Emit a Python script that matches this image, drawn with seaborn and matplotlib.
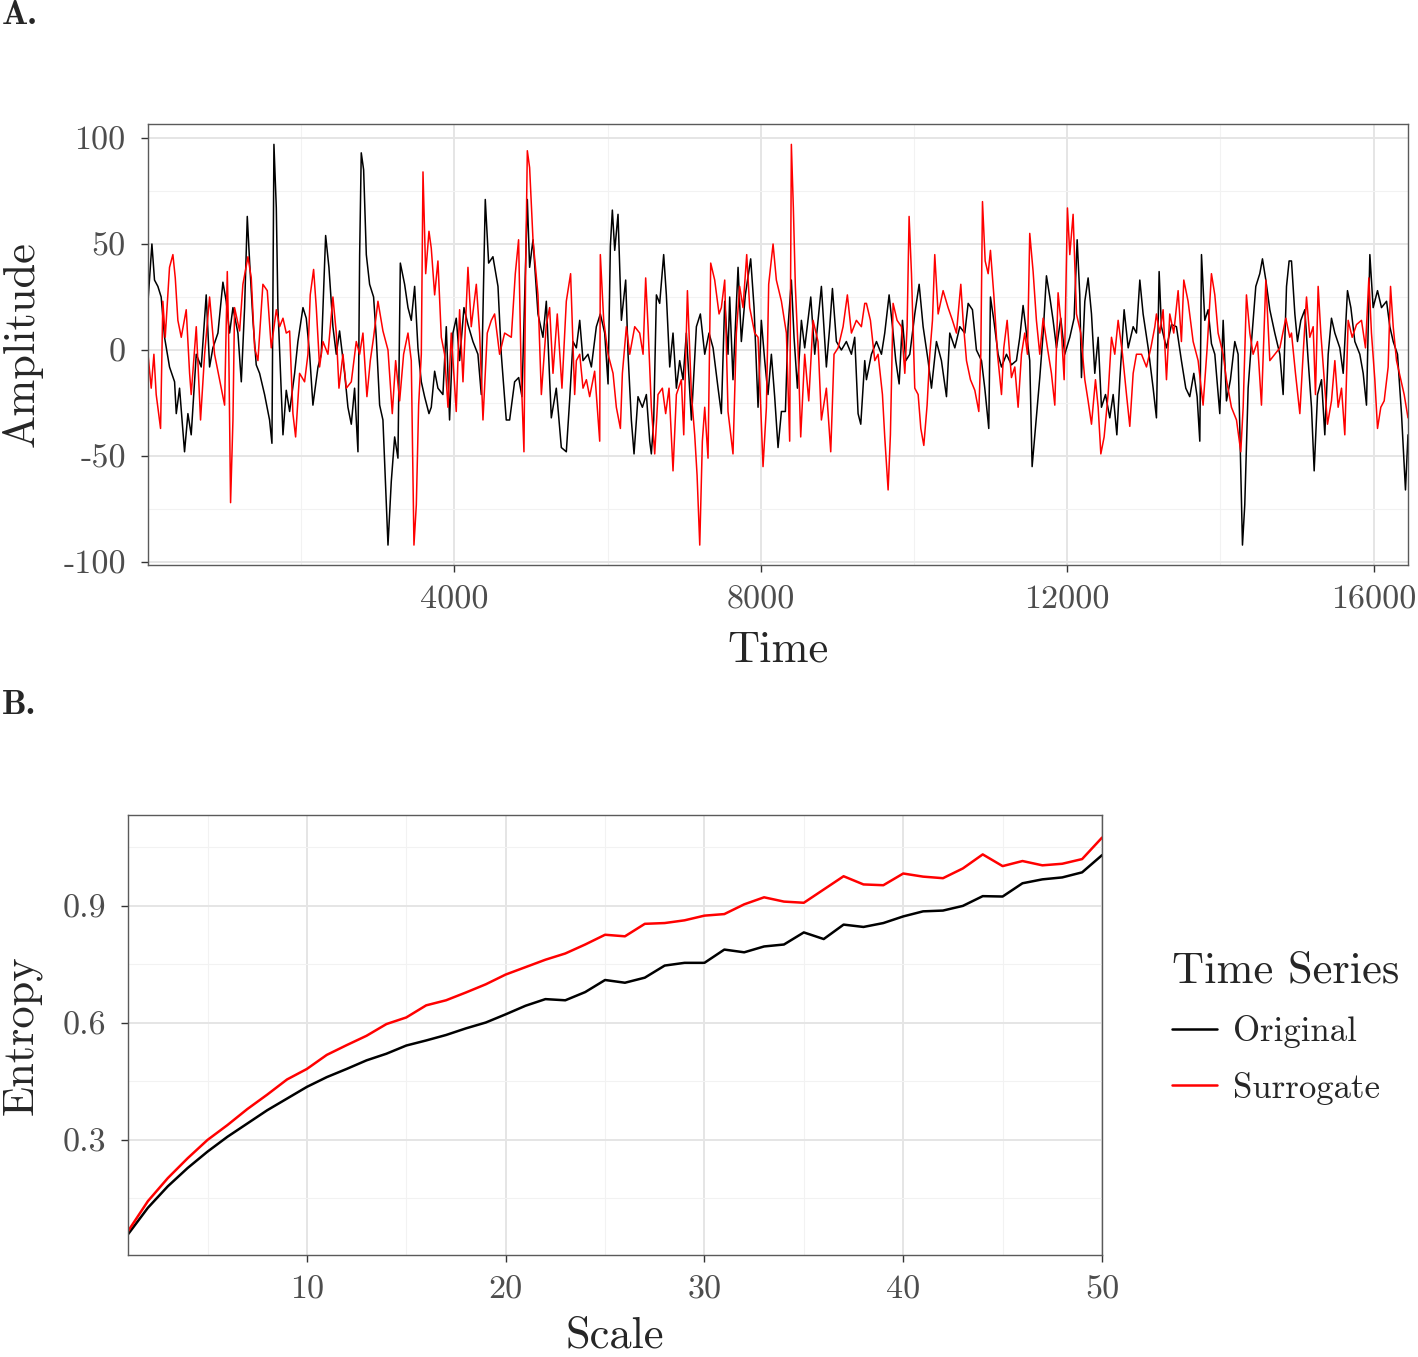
import matplotlib
matplotlib.use("Agg")
import matplotlib.pyplot as plt
from matplotlib.lines import Line2D
import seaborn as sns
import pandas as pd

# ---- panel A: time series (time, amplitude) ----
original_pts = [
    (1, 23), (52, 50), (86, 33), (130, 30), (173, 25), (217, 6), (282, -8), (348, -15), (370, -30), (413, -18),
    (478, -48), (522, -30), (565, -40), (631, -2), (696, -8), (761, 26), (805, -8), (848, 1), (914, 8), (979, 32),
    (1022, 23), (1066, 8), (1110, 20), (1175, 8), (1219, -15), (1262, 20), (1297, 63), (1327, 42), (1371, 14),
    (1414, -7), (1458, -11), (1523, -21), (1588, -33), (1619, -44), (1645, 97), (1676, 67), (1697, 20), (1763, -40),
    (1806, -19), (1850, -29), (1915, -11), (1958, 4), (2024, 20), (2067, 15), (2111, -2), (2154, -26), (2220, -8),
    (2263, -2), (2320, 54), (2363, 39), (2415, 11), (2459, -2), (2502, 9), (2568, -11), (2611, -27), (2655, -35),
    (2698, -18), (2742, -48), (2764, 45), (2785, 93), (2816, 85), (2851, 45), (2894, 31), (2946, 25), (2981, 6),
    (3025, -26), (3068, -33), (3134, -92), (3177, -62), (3221, -41), (3264, -51), (3295, 41), (3351, 31), (3395, 20),
    (3438, 14), (3482, 30), (3525, 1), (3569, -15), (3612, -22), (3669, -30),
    (3699, -27), (3743, -10), (3786, -18), (3851, -21), (3895, 11), (3938, -33), (3982, 8), (4025, 15), (4069, -5),
    (4126, 20), (4178, 12), (4243, 4), (4308, -2), (4352, -21), (4404, 71), (4448, 41), (4504, 44), (4570, 30),
    (4613, -2), (4678, -33), (4722, -33), (4787, -15), (4840, -13), (4883, -22), (4953, 71), (4983, 39), (5027, 52),
    (5092, 17), (5157, 6), (5201, 23), (5266, -32), (5331, -18), (5397, -46), (5462, -48), (5505, -24), (5549, 4),
    (5593, 1), (5637, 14), (5680, -5), (5745, -2), (5789, -8), (5854, 11), (5906, 17), (5963, 8), (6007, -16),
    (6037, 49), (6063, 66), (6094, 47), (6137, 64), (6181, 14), (6237, 33), (6268, -2), (6311, -33), (6346, -49),
    (6398, -22), (6455, -27), (6507, -21), (6551, -43), (6572, -49), (6603, -33), (6638, 26), (6681, 22), (6733, 45),
    (6768, 26), (6812, -8), (6855, 8), (6899, -18), (6942, -5), (6986, -14), (7029, 8), (7095, -33), (7160, 11),
    (7212, 17), (7269, -2), (7325, 8), (7378, 1), (7443, -18),
    (7486, -30), (7530, 23), (7573, -2), (7595, 25), (7638, -14), (7704, 39), (7747, 4), (7799, 26), (7869, 43),
    (7913, 20), (7965, -27), (8008, 14), (8052, -5), (8095, -21), (8139, -2), (8182, -22), (8226, -46), (8270, -29),
    (8322, -29), (8357, 11), (8400, 33), (8435, 6), (8479, -18), (8531, 14), (8574, 1), (8653, 25), (8705, -2),
    (8748, 14), (8792, 30), (8857, -8), (8901, 11), (8936, 29), (8988, 4), (9053, 0), (9118, 4), (9184, -2),
    (9227, 6), (9271, -30), (9306, -35), (9358, -5),
    (9380, -14), (9445, -2), (9511, 4), (9576, -2), (9619, 8), (9676, 26), (9720, 11), (9763, -5), (9807, -16),
    (9850, 14), (9894, -5), (9946, -2), (10011, 17), (10068, 31), (10120, 11), (10185, -5), (10229, -18), (10294, 4),
    (10359, -5), (10425, -22), (10468, 8), (10534, 1), (10599, 11), (10664, 8), (10708, 22), (10764, 19), (10816, 0),
    (10882, -5), (10925, -18), (10977, -37), (10999, 25), (11043, 14), (11099, -2), (11143, -8), (11208, -2),
    (11273, -7), (11338, -5), (11382, 6), (11425, 21), (11469, 8), (11512, -5), (11543, -55), (11586, -37),
    (11643, -13), (11687, 8), (11730, 35), (11774, 25), (11817, 14), (11861, 1), (11917, 15), (11969, -2),
    (12035, 6), (12091, 15), (12131, 52), (12165, 26), (12187, -13), (12231, 23), (12274, 34), (12318, 17),
    (12361, -11), (12405, 6), (12448, -27), (12501, -21), (12557, -32), (12601, -21), (12649, -40), (12688, -14),
    (12744, 19), (12797, 1), (12862, 11), (12905, 8), (12949, 33), (12992, 17), (13058, 1), (13123, -18),
    (13166, -32), (13201, 37), (13231, 11), (13297, 1), (13362, 12), (13427, 11), (13492, -5), (13549, -18),
    (13601, -22), (13654, -11), (13697, -22), (13732, -43), (13754, 45), (13797, 14), (13841, 19), (13884, 3),
    (13928, -2), (13993, -30), (14037, 14), (14080, -24), (14132, -14), (14189, 4), (14232, -2), (14289, -92),
    (14319, -73), (14363, -18), (14407, 4), (14463, 30), (14515, 36), (14550, 43), (14594, 33), (14646, 19),
    (14711, 8), (14777, -2), (14820, -21), (14864, 30), (14898, 42),
    (14929, 42), (14973, 17), (15007, 4), (15051, 14), (15103, 19), (15147, -5), (15190, -27), (15225, -57),
    (15269, -21), (15321, -14), (15364, -40), (15408, -2), (15451, 15), (15495, 8), (15560, 1), (15604, -11),
    (15660, 28), (15704, 20), (15756, 4), (15821, -2), (15865, -11), (15908, -26), (15952, 45), (15995, 20),
    (16052, 28), (16104, 20), (16170, 23), (16213, 11), (16257, 4), (16313, -2), (16365, -30), (16417, -66),
    (16450, -40),
]

surrogate_pts = [
    (1, -2), (43, -18), (78, -2), (108, -21), (165, -37), (195, 23), (226, 6), (282, 39), (326, 45), (357, 34),
    (391, 14), (435, 6), (500, 19), (544, -11), (565, -21), (631, 11), (687, -33), (740, -2), (805, 25), (870, -2),
    (957, -18), (1001, -26), (1036, 37), (1053, 8), (1079, -72), (1110, -33), (1131, 20), (1197, 9), (1240, 31),
    (1306, 44), (1349, 34), (1393, 1), (1436, -5), (1501, 31), (1558, 28), (1610, 1), (1676, 19), (1719, 11),
    (1763, 15),
    (1806, 8), (1850, 9), (1893, -30), (1928, -41), (1980, -11), (2045, -15), (2089, -2), (2119, 26), (2163, 38),
    (2198, 20), (2241, -8), (2285, 4), (2350, -2), (2415, 25), (2459, 8), (2494, -18), (2546, -2), (2590, -18),
    (2655, -15), (2720, 4), (2764, -2), (2807, 8), (2859, -22), (2903, -5), (2946, 6), (3003, 23), (3068, 9),
    (3134, 0), (3190, -30), (3234, -5), (3286, -24), (3338, -2), (3395, 8), (3438, -5), (3473, -92), (3504, -73),
    (3534, -26), (3569, -2), (3591, 84), (3626, 36), (3669, 56),
    (3699, 48), (3743, 26), (3786, 42), (3830, 6), (3873, -2), (3917, -27), (3960, 8), (4025, -29), (4069, 19),
    (4113, -15), (4178, 39), (4221, 11), (4287, 31), (4330, 8), (4374, -33), (4430, 8), (4483, 14), (4526, 17),
    (4591, -2), (4657, 8), (4744, 6), (4796, 36), (4839, 52), (4874, -13), (4909, -48), (4931, 37), (4953, 94),
    (4983, 86), (5027, 52), (5092, 26), (5136, -21), (5201, 12), (5244, 20), (5288, -11), (5344, 17), (5405, -18),
    (5462, 23), (5518, 36), (5571, -21),
    (5593, -5), (5637, -2), (5680, -18), (5724, -14), (5767, -22), (5832, -10), (5898, -43), (5906, 45),
    (5950, 14), (6007, -2), (6072, -11), (6115, -27), (6168, -37), (6194, -11), (6246, 11), (6290, -2), (6355, 11),
    (6420, 8), (6464, -2), (6498, 34), (6529, 11), (6572, -27), (6616, -49), (6659, -21), (6716, -18), (6759, -30),
    (6803, -18), (6855, -57), (6899, -21), (6964, -14), (6995, -40), (7043, 28), (7095, -21), (7138, -40),
    (7169, -59), (7204, -92), (7238, -43), (7269, -27), (7312, -51), (7347, 41), (7399, 33), (7456, 17),
    (7486, 20), (7530, 33), (7573, -29), (7638, -49), (7682, 8), (7725, 30), (7769, 20), (7817, 45), (7856, 20),
    (7921, 8), (7965, 6), (8030, -55), (8074, -27), (8104, 31), (8161, 50), (8204, 33), (8270, 23), (8335, 8),
    (8378, -43), (8400, 97), (8426, 67), (8452, 30), (8487, 1), (8522, -41), (8574, -2), (8627, -24), (8683, 14),
    (8748, 4), (8792, -33), (8857, -18), (8914, -48), (8957, -2), (9010, 1), (9075, 11), (9131, 26), (9184, 8),
    (9249, 14), (9314, 11), (9358, 22),
    (9380, 22), (9432, 14), (9489, -5), (9532, -2), (9589, -21), (9619, -41), (9663, -66), (9693, -40), (9728, 22),
    (9780, 14), (9837, 11), (9881, -11), (9911, 11), (9937, 63), (9968, 36), (10011, -18), (10055, -21),
    (10090, -37), (10129, -45), (10172, -26), (10207, -2), (10242, 14), (10272, 45), (10316, 17), (10381, 28),
    (10446, 20), (10503, 14), (10555, 8), (10612, 31), (10642, 14), (10686, -5), (10738, -14), (10795, -19),
    (10847, -29), (10873, -2), (10895, 70), (10930, 42), (10969, 36), (10999, 47), (11043, 26), (11091, -2),
    (11143, -21), (11173, 1), (11217, 14), (11260, -7),
    (11273, -13), (11317, -8), (11360, -27), (11404, -2), (11447, 8), (11482, -2), (11512, 55), (11556, 37),
    (11599, 14), (11643, -2), (11687, 15), (11743, 1), (11795, -11), (11839, -26), (11882, 27), (11917, 14),
    (11961, -14), (12004, 67), (12035, 45), (12078, 64), (12122, 17), (12178, 8), (12231, -14), (12274, -24),
    (12318, -35), (12370, -14), (12405, -27), (12440, -49), (12483, -41), (12535, -21), (12579, 6), (12622, -2),
    (12666, 14), (12723, -2), (12775, -21), (12818, -36), (12862, -11), (12905, -2), (12971, -2), (13036, -8),
    (13093, 1), (13145, 11),
    (13166, 17), (13210, 8), (13253, 19), (13297, -14), (13340, 17), (13392, 8), (13449, 28), (13492, 4),
    (13523, 33), (13579, 23), (13645, 4), (13710, -5), (13775, -26), (13828, 1), (13884, 36), (13928, 26),
    (13971, 8), (14037, -2), (14080, -14), (14145, -27), (14211, -33), (14267, -48), (14298, -27), (14341, 26),
    (14385, 8), (14428, -2), (14485, 4), (14537, -26), (14594, 33), (14646, -5), (14711, -2), (14777, 1),
    (14855, 15), (14907, 6),
    (14929, 8), (14981, -11), (15038, -30), (15081, -2), (15125, 25), (15168, 6), (15212, 11), (15242, -21),
    (15277, 30), (15312, 8), (15356, -14), (15399, -35), (15451, -24), (15495, -5), (15538, -27), (15582, -18),
    (15625, -40), (15669, 14), (15721, 6), (15778, 12), (15843, 14), (15895, 1), (15939, 34), (15973, 8),
    (16017, -14), (16052, -37), (16095, -27), (16139, -24), (16191, -8), (16222, 30), (16257, 11), (16300, -5),
    (16357, -14), (16400, -21), (16450, -32),
]

# ---- panel B: multiscale entropy ----
scales = list(range(1, 51))
entropy_original = [
    0.058, 0.126, 0.181, 0.228, 0.270, 0.308, 0.342, 0.376, 0.406, 0.436,
    0.461, 0.482, 0.504, 0.521, 0.542, 0.555, 0.569, 0.586, 0.601, 0.622,
    0.644, 0.661, 0.658, 0.679, 0.710, 0.703, 0.716, 0.747, 0.754, 0.754,
    0.788, 0.781, 0.796, 0.801, 0.832, 0.815, 0.852, 0.846, 0.856, 0.873,
    0.886, 0.888, 0.900, 0.925, 0.924, 0.958, 0.968, 0.973, 0.986, 1.030,
]
entropy_surrogate = [
    0.066, 0.143, 0.202, 0.253, 0.300, 0.338, 0.379, 0.416, 0.455, 0.482,
    0.518, 0.543, 0.567, 0.597, 0.614, 0.645, 0.658, 0.678, 0.699, 0.724,
    0.743, 0.762, 0.778, 0.801, 0.826, 0.822, 0.854, 0.856, 0.863, 0.875,
    0.879, 0.904, 0.922, 0.911, 0.908, 0.942, 0.976, 0.955, 0.953, 0.983,
    0.975, 0.971, 0.996, 1.032, 1.002, 1.015, 1.004, 1.008, 1.020, 1.075,
]

series_names = ["Original", "Surrogate"]
palette = {"Original": "black", "Surrogate": "red"}

sns.set_style("white")
plt.rcParams["font.family"] = ["cmr10", "DejaVu Serif"]
plt.rcParams["axes.unicode_minus"] = False
plt.rcParams["axes.formatter.use_mathtext"] = True

df_ts = pd.concat([
    pd.DataFrame(original_pts, columns=["Time", "Amplitude"]).assign(Series="Original"),
    pd.DataFrame(surrogate_pts, columns=["Time", "Amplitude"]).assign(Series="Surrogate"),
], ignore_index=True)
df_mse = pd.DataFrame({
    "Scale": scales + scales,
    "Entropy": entropy_original + entropy_surrogate,
    "Series": ["Original"] * len(scales) + ["Surrogate"] * len(scales),
})

W, H = 1418, 1357
fig = plt.figure(figsize=(W / 100, H / 100), dpi=100)
ax_a = fig.add_axes([148 / W, 1 - 565 / H, 1260 / W, 441 / H])
ax_b = fig.add_axes([128 / W, 1 - 1255 / H, 974 / W, 440 / H])

sns.lineplot(data=df_ts, x="Time", y="Amplitude", hue="Series", hue_order=series_names,
             palette=palette, estimator=None, lw=1.1, ax=ax_a, legend=False)
sns.lineplot(data=df_mse, x="Scale", y="Entropy", hue="Series", hue_order=series_names,
             palette=palette, estimator=None, lw=1.8, ax=ax_b, legend=False)


def style_axes(ax, xmaj, xlab, xmin, ymaj, ylab, ymin):
    ax.set_xticks(xmaj)
    ax.set_xticklabels(xlab)
    ax.set_xticks(xmin, minor=True)
    ax.set_yticks(ymaj)
    ax.set_yticklabels(ylab)
    ax.set_yticks(ymin, minor=True)
    ax.grid(which="major", color="#E5E5E5", lw=1.4)
    ax.grid(which="minor", color="#F2F2F2", lw=0.8)
    ax.set_axisbelow(True)
    for sp in ax.spines.values():
        sp.set_visible(True)
        sp.set_color("#5a5a5a")
        sp.set_linewidth(1.0)
    ax.tick_params(which="major", direction="out", length=5, width=1.0, color="#333333",
                   labelsize=24.5, labelcolor="#4D4D4D", bottom=True, left=True)
    ax.tick_params(axis="x", which="major", pad=10)
    ax.tick_params(axis="y", which="major", pad=11)
    ax.tick_params(which="minor", length=0)


style_axes(ax_a, [4000, 8000, 12000, 16000], ["4000", "8000", "12000", "16000"],
           [2000, 6000, 10000, 14000],
           [-100, -50, 0, 50, 100], ["-100", "-50", "0", "50", "100"], [-75, -25, 25, 75])
ax_a.set_xlim(1, 16450)
ax_a.set_ylim(-101.4, 106.6)
ax_a.set_xlabel("Time", fontsize=32, labelpad=11)
ax_a.set_ylabel("Amplitude", fontsize=32, labelpad=15)

style_axes(ax_b, [10, 20, 30, 40, 50], ["10", "20", "30", "40", "50"], [5, 15, 25, 35, 45],
           [0.3, 0.6, 0.9], ["0.3", "0.6", "0.9"], [0.15, 0.45, 0.75, 1.05])
ax_b.set_xlim(1, 50)
ax_b.set_ylim(0.005, 1.133)
ax_b.set_xlabel("Scale", fontsize=32, labelpad=8)
ax_b.set_ylabel("Entropy", fontsize=32, labelpad=15)

handles = [Line2D([], [], color=palette[s], lw=1.8) for s in series_names]
leg = ax_b.legend(handles, series_names, title="Time Series", loc="upper left",
                  bbox_to_anchor=(1141 / W, 1 - 920 / H), bbox_transform=fig.transFigure,
                  frameon=False, fontsize=25, title_fontsize=32, handlelength=1.3,
                  handletextpad=0.45, labelspacing=0.68, alignment="left")

fig.text(2 / W, 1 - 16 / H, "A.", fontsize=25, family=["cmb10", "DejaVu Serif"], va="center", ha="left")
fig.text(2 / W, 1 - 706 / H, "B.", fontsize=25, family=["cmb10", "DejaVu Serif"], va="center", ha="left")

fig.savefig("out.png", dpi=100)
